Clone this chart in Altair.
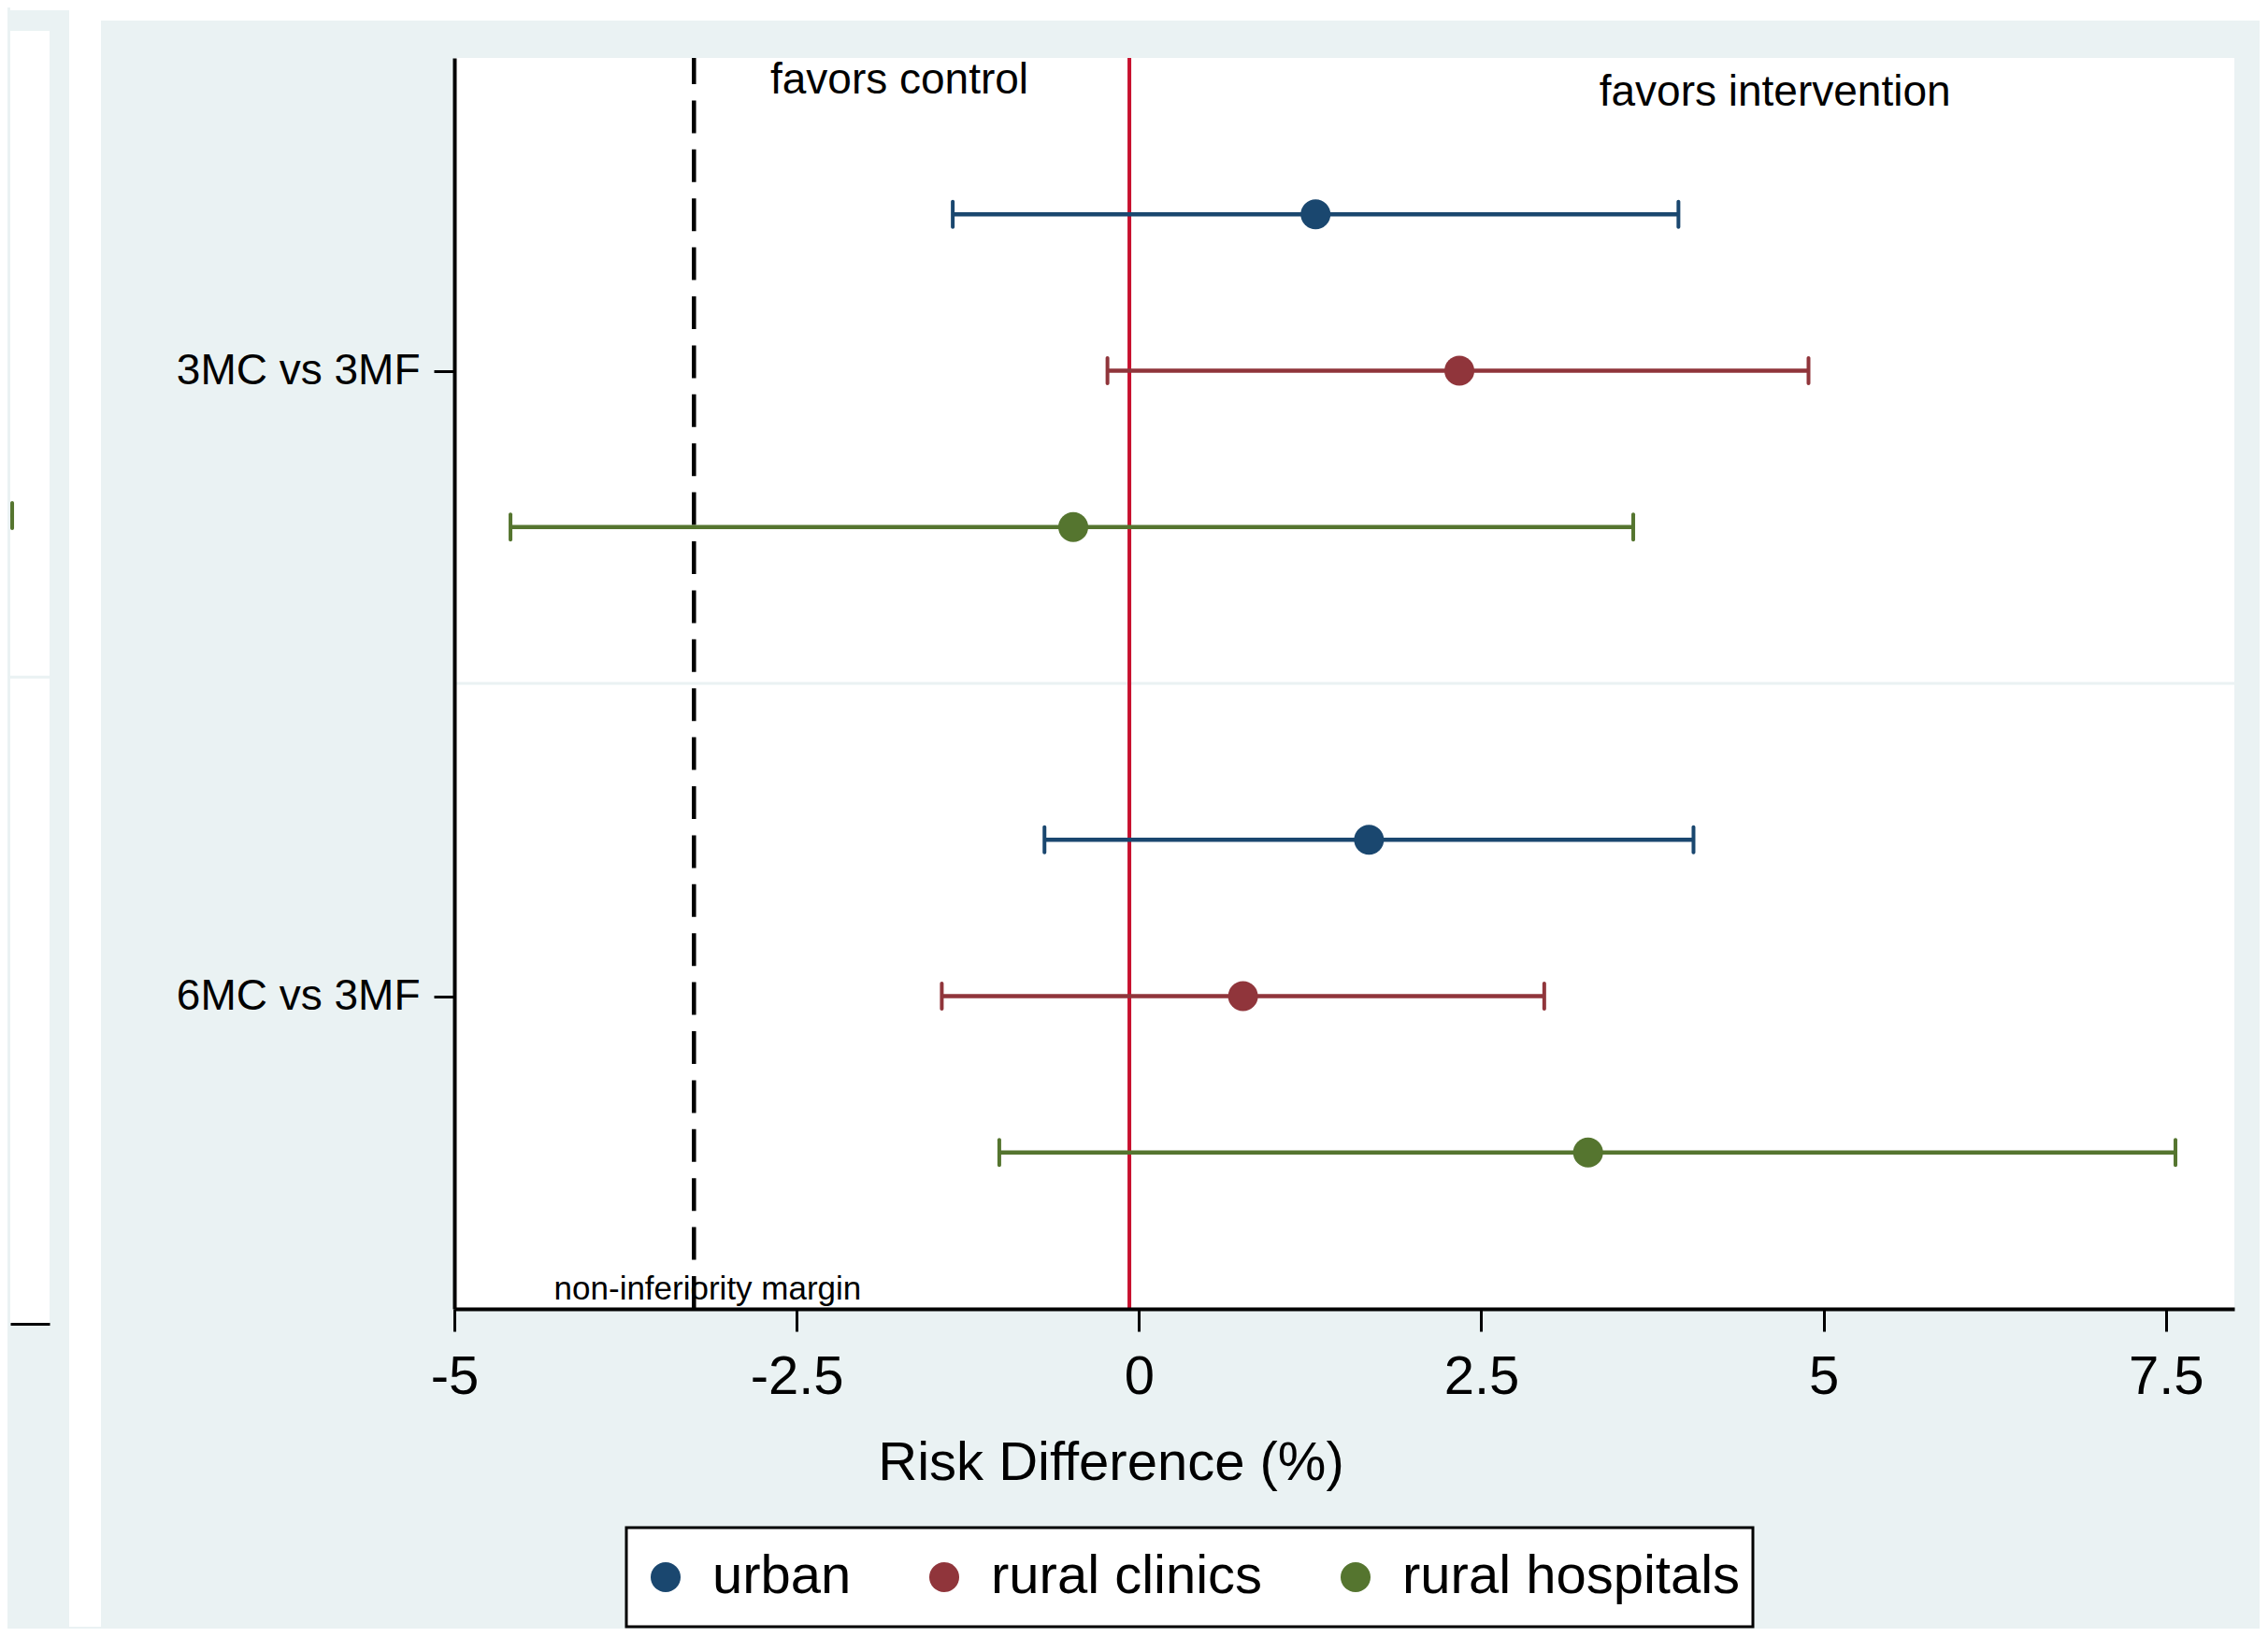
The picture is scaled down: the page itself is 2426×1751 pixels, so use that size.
import altair as alt
import pandas as pd

# ---------------- data ----------------
comparisons = ["3MC vs 3MF", "6MC vs 3MF"]
sites = ["urban", "rural clinics", "rural hospitals"]
site_colors = ["#1a476f", "#90353b", "#55752f"]

est_3mc = [1.29, 2.34, -0.48]
lo_3mc = [-1.36, -0.23, -4.59]
hi_3mc = [3.94, 4.89, 3.61]

est_6mc = [1.68, 0.76, 3.28]
lo_6mc = [-0.69, -1.44, -1.02]
hi_6mc = [4.05, 2.96, 7.57]

x_ticks = [-5, -2.5, 0, 2.5, 5, 7.5]
x_domain = [-5, 8]
ni_margin = -3.25
null_line = -0.07

annot_text = ["favors control", "favors intervention"]
annot_x = [-1.75, 4.645]
annot_y = [0.23, 0.305]
margin_label = ["non-inferiority margin"]
margin_label_x = [-3.15]
margin_label_y = [7.94]

# cropped neighbouring panel on the far left
left_domain = [7.71, 8.0]
left_y_domain = [0.17, 8]
left_hosp_hi = [7.724]

FONT = "Liberation Sans"
BG = "#EAF2F3"

# ---------------- tables ----------------
rows = []
for gi, (est, lo, hi) in enumerate([(est_3mc, lo_3mc, hi_3mc), (est_6mc, lo_6mc, hi_6mc)]):
    for si, s in enumerate(sites):
        rows.append({"comparison": comparisons[gi], "site": s, "est": est[si],
                     "lo": lo[si], "hi": hi[si], "row": gi * 4 + si + 1})
df = pd.DataFrame(rows)
cat_pos = [gi * 4 + 2 for gi in range(len(comparisons))]
label_expr = " : ".join(
    [f"datum.value == {p} ? '{c}'" for p, c in zip(cat_pos[:-1], comparisons[:-1])]
) + f" : '{comparisons[-1]}'"

W, H = 1904, 1338

xscale = alt.Scale(domain=x_domain, nice=False, zero=False)
yscale = alt.Scale(domain=[0, 8], reverse=True, nice=False, zero=False)

xaxis = alt.Axis(values=x_ticks, labelExpr="'' + datum.value", labelFontSize=58,
                 labelFont=FONT, labelColor="black", labelPadding=20, labelFlush=False,
                 tickSize=24, tickWidth=3, tickColor="black", domainColor="black",
                 domainWidth=4, grid=False, title="Risk Difference (%)", titleFontSize=58,
                 titleFont=FONT, titleFontWeight="normal", titleColor="black",
                 titleX=702, titleY=182, titleBaseline="alphabetic", titleAlign="center",
                 zindex=1)
yaxis = alt.Axis(values=cat_pos, labelExpr=label_expr, labelFontSize=46, labelFont=FONT,
                 labelColor="black", labelPadding=15, labelFlush=False, labelLimit=1000,
                 tickSize=22, tickWidth=3, tickColor="black", domainColor="black",
                 domainWidth=4, grid=False, title=None, zindex=1)


def X(f):
    return alt.X(f"{f}:Q", scale=xscale, axis=xaxis)


def Y(f):
    return alt.Y(f"{f}:Q", scale=yscale, axis=yaxis)


color_legend = alt.Color(
    "site:N", scale=alt.Scale(domain=sites, range=site_colors),
    legend=alt.Legend(orient="none", legendX=184, legendY=1572, direction="horizontal",
                      title=None, symbolType="circle", symbolSize=1024, symbolStrokeWidth=0,
                      symbolOpacity=1, labelFontSize=58, labelFont=FONT, labelColor="black",
                      labelLimit=1000, labelOffset=21, columnPadding=70, padding=13,
                      clipHeight=80, strokeColor="black", fillColor="white"))

one = pd.DataFrame({"a": [0]})

strip = alt.Chart(one).mark_rect(color="white").encode(
    x=alt.value(-412), x2=alt.value(-378), y=alt.value(-54), y2=alt.value(1678))
topband = alt.Chart(one).mark_rect(color="white").encode(
    x=alt.value(-378), x2=alt.value(1931), y=alt.value(-54), y2=alt.value(-40))

grid = alt.Chart(pd.DataFrame({"g": [4]})).mark_rule(color=BG, strokeWidth=3).encode(y=Y("g"))
ni = alt.Chart(pd.DataFrame({"v": [ni_margin]})).mark_rule(
    color="black", strokeWidth=4.5, strokeDash=[35, 17.4], strokeDashOffset=7).encode(x=X("v"))
null = alt.Chart(pd.DataFrame({"v": [null_line]})).mark_rule(
    color="#c8102e", strokeWidth=4).encode(x=X("v"))

base = alt.Chart(df)
ci_layers = []
for s, c in zip(sites, site_colors):
    sb = base.transform_filter(alt.datum.site == s)
    ci_layers.append(sb.mark_rule(strokeWidth=4.5, color=c).encode(
        x=X("lo"), x2="hi", y=Y("row")))
    ci_layers.append(sb.mark_tick(orient="vertical", size=31, thickness=4, opacity=1,
                                  cornerRadius=2, color=c).encode(x=X("lo"), y=Y("row")))
    ci_layers.append(sb.mark_tick(orient="vertical", size=31, thickness=4, opacity=1,
                                  cornerRadius=2, color=c).encode(x=X("hi"), y=Y("row")))

points = base.mark_point(filled=True, shape="circle", size=1024, opacity=1, strokeWidth=0).encode(
    x=X("est"), y=Y("row"), color=color_legend)

annot = alt.Chart(pd.DataFrame({"t": annot_text, "tx": annot_x, "ty": annot_y})).mark_text(
    font=FONT, fontSize=46, color="black", align="center", baseline="alphabetic").encode(
    x=X("tx"), y=Y("ty"), text="t:N")
mlabel = alt.Chart(pd.DataFrame({"t": margin_label, "tx": margin_label_x, "ty": margin_label_y})).mark_text(
    font=FONT, fontSize=35, color="black", align="center", baseline="alphabetic").encode(
    x=X("tx"), y=Y("ty"), text="t:N")

main = alt.layer(strip, topband, grid, ni, null, *ci_layers, points, annot, mlabel
                 ).properties(width=W, height=H)

# ---------------- cropped left panel ----------------
LH = 1354
lxscale = alt.Scale(domain=left_domain, nice=False, zero=False)
lyscale = alt.Scale(domain=left_y_domain, reverse=True, nice=False, zero=False)
lxaxis = alt.Axis(labels=False, ticks=False, grid=False, domainColor="black", domainWidth=3,
                  title=None)
ltop_white = alt.Chart(one).mark_rect(color="white").encode(
    x=alt.value(0), x2=alt.value(63), y=alt.value(-54), y2=alt.value(-51))
lpanel_ext = alt.Chart(one).mark_rect(color="white").encode(
    x=alt.value(0), x2=alt.value(42), y=alt.value(-29), y2=alt.value(0))
lgrid = alt.Chart(pd.DataFrame({"g": [4]})).mark_rule(color=BG, strokeWidth=3).encode(
    y=alt.Y("g:Q", scale=lyscale, axis=None))
ldf = pd.DataFrame({"lo": [left_domain[0]], "hi": left_hosp_hi, "row": [3]})
lbar = alt.Chart(ldf).mark_rule(strokeWidth=4.5, color=site_colors[2]).encode(
    x=alt.X("lo:Q", scale=lxscale, axis=lxaxis), x2="hi",
    y=alt.Y("row:Q", scale=lyscale, axis=None))
lcap = alt.Chart(ldf).mark_tick(orient="vertical", size=31, thickness=4, opacity=1,
                                cornerRadius=2, color=site_colors[2]).encode(
    x=alt.X("hi:Q", scale=lxscale, axis=lxaxis),
    y=alt.Y("row:Q", scale=lyscale, axis=None))
left = alt.layer(ltop_white, lpanel_ext, lgrid, lbar, lcap).properties(width=42, height=LH)

chart = alt.hconcat(left, main, spacing=0).resolve_legend(color="independent").resolve_scale(
    color="independent").properties(
    background=BG, padding=0
).configure_view(strokeWidth=0, fill="white").configure_legend(strokeWidth=3)

chart.save("out.html", embed_options={"renderer": "svg", "actions": False})
